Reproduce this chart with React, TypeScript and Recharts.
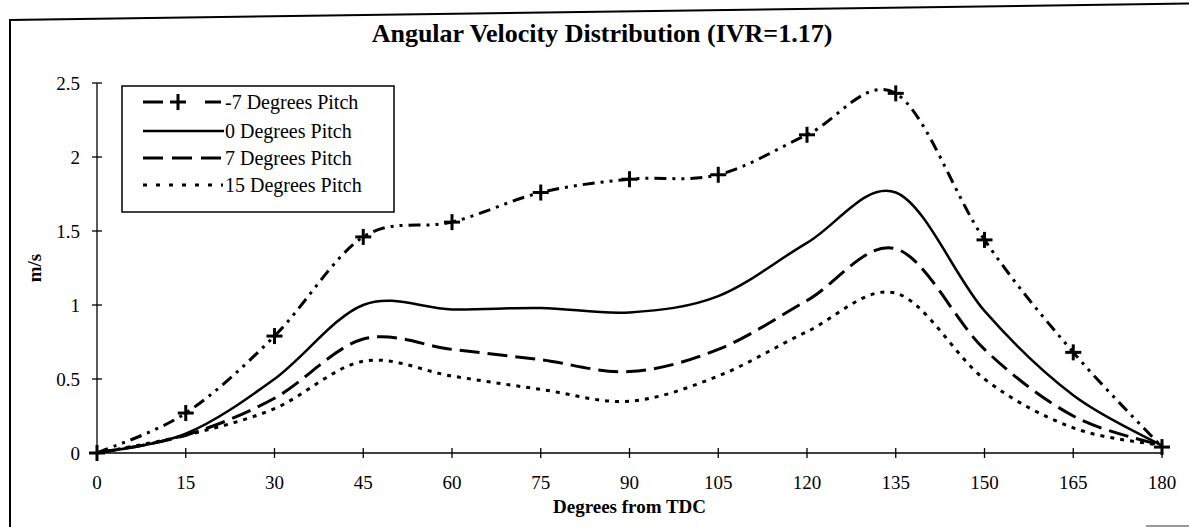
import { LineChart, Line, XAxis, YAxis, Legend } from "recharts";

const angles = [0, 15, 30, 45, 60, 75, 90, 105, 120, 135, 150, 165, 180];
const pitchMinus7 = [0, 0.27, 0.79, 1.46, 1.56, 1.76, 1.85, 1.88, 2.15, 2.43, 1.44, 0.68, 0.04];
const pitch0 = [0, 0.13, 0.5, 1.0, 0.97, 0.98, 0.95, 1.06, 1.42, 1.76, 0.96, 0.39, 0.05];
const pitch7 = [0, 0.12, 0.37, 0.77, 0.7, 0.63, 0.55, 0.7, 1.03, 1.38, 0.7, 0.25, 0.05];
const pitch15 = [0, 0.12, 0.3, 0.62, 0.52, 0.43, 0.35, 0.52, 0.82, 1.08, 0.5, 0.17, 0.05];
const yTicks = [0, 0.5, 1, 1.5, 2, 2.5];
const seriesNames = ["-7 Degrees Pitch", "0 Degrees Pitch", "7 Degrees Pitch", "15 Degrees Pitch"];

const data = angles.map((a, i) => ({
  angle: a,
  m7: pitchMinus7[i],
  p0: pitch0[i],
  p7: pitch7[i],
  p15: pitch15[i],
}));

const FONT = "'Liberation Serif', 'Times New Roman', serif";

// Excel style smoothed line: bezier with control points at 1/6 of neighbour span
const excelSmooth = (context: any) => {
  let pts: number[][] = [];
  return {
    areaStart() {},
    areaEnd() {},
    lineStart() {
      pts = [];
    },
    point(x: number, y: number) {
      pts.push([+x, +y]);
    },
    lineEnd() {
      if (!pts.length) return;
      context.moveTo(pts[0][0], pts[0][1]);
      for (let i = 0; i < pts.length - 1; i++) {
        const p0 = pts[Math.max(i - 1, 0)];
        const p1 = pts[i];
        const p2 = pts[i + 1];
        const p3 = pts[Math.min(i + 2, pts.length - 1)];
        context.bezierCurveTo(
          p1[0] + (p2[0] - p0[0]) / 6,
          p1[1] + (p2[1] - p0[1]) / 6,
          p2[0] - (p3[0] - p1[0]) / 6,
          p2[1] - (p3[1] - p1[1]) / 6,
          p2[0],
          p2[1]
        );
      }
    },
  };
};

const PlusDot = (props: any) => {
  const { cx, cy } = props;
  if (cx == null || cy == null) return null;
  return (
    <g>
      <line x1={cx - 8} x2={cx + 8} y1={cy} y2={cy} stroke="#000" strokeWidth={3} />
      <line x1={cx} x2={cx} y1={cy - 8} y2={cy + 8} stroke="#000" strokeWidth={3} />
    </g>
  );
};

const XTick = (props: any) => {
  const { x, y, payload } = props;
  return (
    <g>
      <line x1={x} x2={x} y1={y - 5} y2={y + 5} stroke="#000" strokeWidth={1.3} />
      <text x={x} y={y + 36} textAnchor="middle" fontSize={19} fontFamily={FONT} fill="#000">
        {payload.value}
      </text>
    </g>
  );
};

const YTick = (props: any) => {
  const { x, y, payload } = props;
  return (
    <g>
      <line x1={x - 5} x2={x + 5} y1={y} y2={y} stroke="#000" strokeWidth={1.3} />
      <text x={x - 17} y={y + 7} textAnchor="end" fontSize={19} fontFamily={FONT} fill="#000">
        {payload.value}
      </text>
    </g>
  );
};

const LegendBox = () => {
  const rowY = [17, 46, 73, 100];
  return (
    <svg width={274} height={128} style={{ display: "block" }}>
      <rect x={1} y={1} width={272} height={126} fill="#fff" stroke="#000" strokeWidth={1.5} />
      {/* -7 */}
      <line x1={22} x2={42} y1={rowY[0]} y2={rowY[0]} stroke="#000" strokeWidth={3} />
      <line x1={49} x2={65} y1={rowY[0]} y2={rowY[0]} stroke="#000" strokeWidth={3} />
      <line x1={57} x2={57} y1={rowY[0] - 8} y2={rowY[0] + 8} stroke="#000" strokeWidth={3} />
      <line x1={84} x2={100} y1={rowY[0]} y2={rowY[0]} stroke="#000" strokeWidth={3} />
      {/* 0 */}
      <line x1={22} x2={103} y1={rowY[1]} y2={rowY[1]} stroke="#000" strokeWidth={2.5} />
      {/* 7 */}
      <line x1={22} x2={102} y1={rowY[2]} y2={rowY[2]} stroke="#000" strokeWidth={3} strokeDasharray="20 9" />
      {/* 15 */}
      <line x1={22} x2={102} y1={rowY[3]} y2={rowY[3]} stroke="#000" strokeWidth={3} strokeDasharray="4 9" />
      {seriesNames.map((n, i) => (
        <text key={n} x={104} y={rowY[i] + 7} fontSize={20} fontFamily={FONT} fill="#000">
          {n}
        </text>
      ))}
    </svg>
  );
};

const YLabel = (props: any) => {
  const { viewBox } = props;
  const cx = 34;
  const cy = viewBox.y + viewBox.height / 2;
  return (
    <text
      x={cx}
      y={cy}
      transform={`rotate(-90 ${cx} ${cy})`}
      textAnchor="middle"
      dominantBaseline="central"
      fontSize={19}
      fontWeight="bold"
      fontFamily={FONT}
      fill="#000"
    >
      m/s
    </text>
  );
};

const XLabel = (props: any) => {
  const { viewBox } = props;
  return (
    <text
      x={viewBox.x + viewBox.width / 2}
      y={viewBox.y + 60}
      textAnchor="middle"
      fontSize={19}
      fontWeight="bold"
      fontFamily={FONT}
      fill="#000"
    >
      Degrees from TDC
    </text>
  );
};

export default function App() {
  return (
    <div
      style={{
        position: "absolute",
        left: 0,
        top: 0,
        width: 1189,
        height: 527,
        background: "#fff",
        overflow: "hidden",
        fontFamily: FONT,
      }}
    >
      <div
        style={{
          position: "absolute",
          left: 9,
          top: 19,
          width: 1200,
          height: 0,
          borderTop: "2px solid #000",
          transform: "rotate(-0.8deg)",
          transformOrigin: "left top",
        }}
      />
      <div style={{ position: "absolute", left: 9, top: 19, width: 0, height: 520, borderLeft: "2px solid #000" }} />
      <div style={{ position: "absolute", left: 1146, top: 525, width: 43, height: 0, borderTop: "2px solid #999" }} />
      <div
        style={{
          position: "absolute",
          left: 302,
          width: 600,
          top: 19,
          textAlign: "center",
          fontSize: 26,
          fontWeight: "bold",
          color: "#000",
        }}
      >
        Angular Velocity Distribution (IVR=1.17)
      </div>
      <LineChart
        width={1189}
        height={527}
        data={data}
        margin={{ top: 83, right: 27, bottom: 0, left: 8 }}
        style={{ position: "absolute", left: 0, top: 0 }}
      >
        <XAxis
          dataKey="angle"
          type="number"
          domain={[0, 180]}
          ticks={angles}
          interval={0}
          height={74}
          tickSize={0}
          tickMargin={0}
          tickLine={false}
          axisLine={{ stroke: "#000", strokeWidth: 1.3 }}
          tick={<XTick />}
          label={{ content: <XLabel /> }}
        />
        <YAxis
          type="number"
          domain={[0, 2.5]}
          ticks={yTicks}
          interval={0}
          width={89}
          tickSize={0}
          tickMargin={0}
          tickLine={false}
          axisLine={{ stroke: "#000", strokeWidth: 1.3 }}
          tick={<YTick />}
          label={{ content: <YLabel /> }}
        />
        <Legend
          content={<LegendBox />}
          layout="vertical"
          verticalAlign="middle"
          align="center"
          wrapperStyle={{ left: 121, top: 85, width: 274, height: 128 }}
        />
        <Line
          dataKey="p15"
          name={seriesNames[3]}
          type={excelSmooth as any}
          stroke="#000"
          strokeWidth={3}
          strokeDasharray="4 6"
          dot={false}
          isAnimationActive={false}
        />
        <Line
          dataKey="p7"
          name={seriesNames[2]}
          type={excelSmooth as any}
          stroke="#000"
          strokeWidth={3}
          strokeDasharray="20 8"
          dot={false}
          isAnimationActive={false}
        />
        <Line
          dataKey="p0"
          name={seriesNames[1]}
          type={excelSmooth as any}
          stroke="#000"
          strokeWidth={2.5}
          dot={false}
          isAnimationActive={false}
        />
        <Line
          dataKey="m7"
          name={seriesNames[0]}
          type={excelSmooth as any}
          stroke="#000"
          strokeWidth={3}
          strokeDasharray="12 6 3 6 3 6"
          dot={<PlusDot />}
          isAnimationActive={false}
        />
      </LineChart>
    </div>
  );
}
